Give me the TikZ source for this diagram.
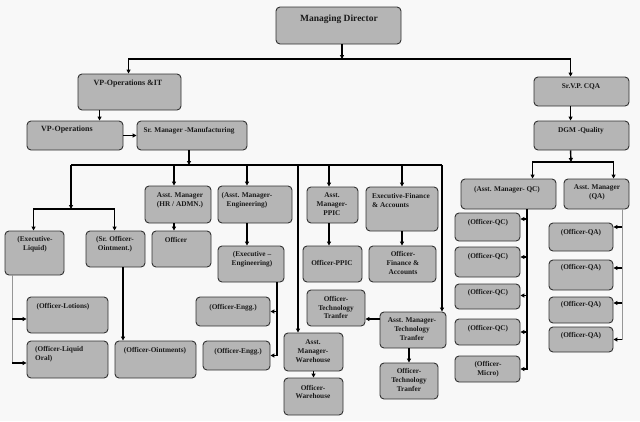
\documentclass[tikz,border=0pt]{standalone}
\usepackage{fontspec}
\setmainfont{Liberation Serif}
\usetikzlibrary{arrows.meta}
\definecolor{bgc}{RGB}{248,248,248}
\definecolor{boxfill}{RGB}{181,181,181}
\definecolor{boxline}{RGB}{50,50,50}
\definecolor{glc}{RGB}{150,150,150}
\newcommand\mybox[5]{\node[box,minimum width={#4-#2},minimum height={#5-#3}] (#1) at ({(#2+#4)/2},{(#3+#5)/2}) {};}
\begin{document}
\begin{tikzpicture}[x=1pt,y=-1pt,
  box/.style={draw=boxline,fill=boxfill,rounded corners=4pt,line width=0.9pt,inner sep=0pt},
  txt/.style={font=\fontsize{7.3}{8.8}\selectfont\bfseries,align=center,inner sep=0pt,text=black!90},
  big/.style={font=\fontsize{9.5}{11}\selectfont\bfseries},
  mid/.style={font=\fontsize{8}{9.5}\selectfont\bfseries},
  line/.style={line width=1.4pt,black},
  arr/.style={line width=1.4pt,black,-{Triangle[length=4pt,width=4pt]}},
  gl/.style={line width=0.8pt,glc}]
\fill[bgc] (0,0) rectangle (640,421);
\useasboundingbox (0,0) rectangle (640,421);

% ---------- boxes ----------
\mybox{md}{276}{7}{401}{44}
\mybox{vpit}{78}{74}{181}{110}
\mybox{vpo}{27}{121}{123}{150}
\mybox{srm}{137}{121}{247}{150}
\mybox{cqa}{534}{77}{629}{106}
\mybox{dgm}{534}{121}{629}{150}
\mybox{amqc}{461}{179}{556}{209}
\mybox{amqa}{564}{179}{629}{209}
\mybox{qc1}{455}{213}{520}{241}
\mybox{qc2}{455}{247}{520}{277}
\mybox{qc3}{455}{284}{520}{309}
\mybox{qc4}{455}{319}{520}{345}
\mybox{micro}{455}{356}{520}{382}
\mybox{qa1}{549}{223}{613}{251}
\mybox{qa2}{549}{260}{613}{290}
\mybox{qa3}{549}{297}{613}{323}
\mybox{qa4}{549}{327}{613}{352}
\mybox{exliq}{5}{231}{64}{275}
\mybox{srofo}{86}{231}{145}{267}
\mybox{amhr}{145}{186}{211}{223}
\mybox{offhr}{152}{231}{211}{267}
\mybox{ameng}{218}{186}{292}{223}
\mybox{exeng}{218}{246}{284}{282}
\mybox{oeng1}{196}{297}{270}{326}
\mybox{oeng2}{203}{341}{270}{370}
\mybox{amppic}{307}{187}{358}{223}
\mybox{oppic}{303}{246}{362}{282}
\mybox{exfin}{366}{187}{438}{231}
\mybox{ofin}{369}{246}{436}{282}
\mybox{ott1}{307}{290}{365}{326}
\mybox{amtt}{380}{312}{446}{348}
\mybox{ott2}{380}{363}{438}{399}
\mybox{amwh}{284}{333}{343}{371}
\mybox{owh}{284}{378}{343}{415}
\mybox{olot}{27}{297}{108}{333}
\mybox{oliq}{27}{341}{108}{378}
\mybox{oint}{115}{341}{196}{378}

% ---------- texts ----------
\node[txt,big] (md-t) at (339,19) {Managing Director};
\node[txt,mid] (vpit-t) at (128,84) {VP-Operations \&IT};
\node[txt,mid,anchor=west] (vpo-t) at (41,130) {VP-Operations};
\node[txt] (srm-t) at (189,131) {Sr. Manager -Manufacturing};
\node[txt] (cqa-t) at (581,87) {Sr.V.P. CQA};
\node[txt] (dgm-t) at (581,131) {DGM -Quality};
\node[txt] (amqc-t) at (507,190) {(Asst. Manager- QC)};
\node[txt] (amqa-t) at (597,192.5) {Asst. Manager\\(QA)};
\node[txt] (qc1-t) at (488,223) {(Officer-QC)};
\node[txt] (qc2-t) at (488,257) {(Officer-QC)};
\node[txt] (qc3-t) at (488,293) {(Officer-QC)};
\node[txt] (qc4-t) at (488,329) {(Officer-QC)};
\node[txt] (micro-t) at (488,369) {(Officer-\\Micro)};
\node[txt] (qa1-t) at (581,233) {(Officer-QA)};
\node[txt] (qa2-t) at (581,268) {(Officer-QA)};
\node[txt] (qa3-t) at (581,305) {(Officer-QA)};
\node[txt] (qa4-t) at (581,336) {(Officer-QA)};
\node[txt] (exliq-t) at (35,244.5) {(Executive-\\Liquid)};
\node[txt] (srofo-t) at (115,244.5) {(Sr. Officer-\\Ointment.)};
\node[txt] (amhr-t) at (180,200) {Asst. Manager\\(HR / ADMN.)};
\node[txt] (offhr-t) at (176,240) {Officer};
\node[txt] (ameng-t) at (247,200.5) {(Asst. Manager-\\Engineering)};
\node[txt] (exeng-t) at (252,259) {(Executive –\\Engineering)};
\node[txt] (oeng1-t) at (233,308) {(Officer-Engg.)};
\node[txt] (oeng2-t) at (238,352) {(Officer-Engg.)};
\node[txt] (amppic-t) at (332,204) {Asst.\\Manager-\\PPIC};
\node[txt] (oppic-t) at (332,263) {Officer-PPIC};
\node[txt,align=left,anchor=west] (exfin-t) at (372,200.5) {Executive-Finance\\\& Accounts};
\node[txt] (ofin-t) at (403,263) {Officer-\\Finance \&\\Accounts};
\node[txt] (ott1-t) at (336,307.5) {Officer-\\Technology\\Tranfer};
\node[txt] (amtt-t) at (412,329) {Asst. Manager-\\Technology\\Tranfer};
\node[txt] (ott2-t) at (409,380) {Officer-\\Technology\\Tranfer};
\node[txt] (amwh-t) at (313,351) {Asst.\\Manager-\\Warehouse};
\node[txt] (owh-t) at (313,392) {Officer-\\Warehouse};
\node[txt] (olot-t) at (63,307) {(Officer-Lotions)};
\node[txt,align=left,anchor=west] (oliq-t) at (35,354.5) {(Officer-Liquid\\Oral)};
\node[txt] (oint-t) at (155,351) {(Officer-Ointments)};

% ---------- connectors ----------
% top level
\coordinate (j1) at (342,59);
\draw[arr] (md.south -| j1) -- (j1);
\draw[arr] (j1) -| ([xshift=51pt]vpit.north west);
\draw[arr] (j1) -| ([xshift=37pt]cqa.north west);
\draw[arr] ([xshift=22pt]vpit.south west) -- ([xshift=22pt]vpit.south west |- vpo.north);
\draw[arr] (vpo.east) -- (srm.west);

% quality side
\draw[arr] ([xshift=37pt]cqa.south west) -- ([xshift=37pt]dgm.north west);
\coordinate (j2) at (571,162);
\draw[arr] ([xshift=37pt]dgm.south west) -- (j2);
\draw[arr] (j2) -| ([xshift=72pt]amqc.north west);
\draw[arr] (j2) -| ([xshift=50pt]amqa.north west);
\coordinate (qcb) at (527,370);
\draw[line] (qcb |- amqc.south) -- (qcb);
\draw[arr] ([yshift=8pt]qc1.east) ++(7,0) -- ([yshift=8pt]qc1.east);
\draw[arr] ([yshift=5pt]qc2.east) ++(7,0) -- ([yshift=5pt]qc2.east);
\draw[arr] ([yshift=1pt]qc3.east) ++(7,0) -- ([yshift=1pt]qc3.east);
\draw[arr] (qc4.east) ++(7,0) -- (qc4.east);
\draw[arr] (micro.east) ++(7,0) -- (micro.east);
\coordinate (qab) at (622,340);
\draw[gl] (qab |- amqa.south) -- (qab);
\draw[arr] ([yshift=10pt]qa1.east) ++(9,0) -- ([yshift=10pt]qa1.east);
\draw[arr] ([yshift=7pt]qa2.east) ++(9,0) -- ([yshift=7pt]qa2.east);
\draw[arr] ([yshift=7pt]qa3.east) ++(9,0) -- ([yshift=7pt]qa3.east);
\draw[arr] (qa4.east) ++(9,0) -- (qa4.east);

% operations bus
\coordinate (j3) at (189,165);
\coordinate (hL) at (71,165);
\coordinate (hR) at (442,165);
\draw[line] (hL) -- (hR);
\draw[arr] (srm.south -| j3) -- (j3);
\coordinate (j4) at (71,209);
\draw[arr] (hL) -- (j4);
\draw[arr] (j4) -| ([xshift=29pt]exliq.north west);
\draw[arr] (j4) -| ([xshift=29pt]srofo.north west);
\coordinate (d1) at (174,165);
\coordinate (d2) at (247,165);
\coordinate (d3) at (298,165);
\coordinate (d4) at (329,165);
\coordinate (d5) at (402,165);
\draw[arr] (d1) -- (d1 |- amhr.north);
\draw[arr] (d2) -- (d2 |- ameng.north);
\draw[arr] (d3) -- (d3 |- amwh.north);
\draw[arr] (d4) -- (d4 |- amppic.north);
\draw[arr] (d5) -- (d5 |- exfin.north);
\draw[arr] (hR) -- (hR |- amtt.north);

% second level
\draw[arr] (d1 |- amhr.south) -- (d1 |- offhr.north);
\draw[arr] (d2 |- ameng.south) -- (d2 |- exeng.north);
\draw[arr] (d4 |- amppic.south) -- (d4 |- oppic.north);
\draw[arr] (d5 |- exfin.south) -- (d5 |- ofin.north);
\coordinate (e1) at (277,0);
\draw[line] (e1 |- exeng.south) -- (e1 |- oeng2.east);
\draw[arr] (e1 |- oeng1.east) -- (oeng1.east);
\draw[arr] (e1 |- oeng2.east) -- (oeng2.east);
\coordinate (t1) at (380,319);
\draw[arr] (t1) -- (t1 -| ott1.east);
\coordinate (t2) at (409,0);
\draw[arr] (t2 |- amtt.south) -- (t2 |- ott2.north);
\draw[arr] (amwh.south) -- (owh.north);
\coordinate (l1) at (12,319);
\coordinate (l2) at (12,363);
\draw[gl] (l1 |- exliq.south) -- (l2);
\draw[arr] (l1) -- (l1 -| olot.west);
\draw[arr] (l2) -- (l2 -| oliq.west);
\coordinate (o1) at (123,0);
\draw[arr] (o1 |- srofo.south) -- (o1 |- oint.north);
\end{tikzpicture}
\end{document}
